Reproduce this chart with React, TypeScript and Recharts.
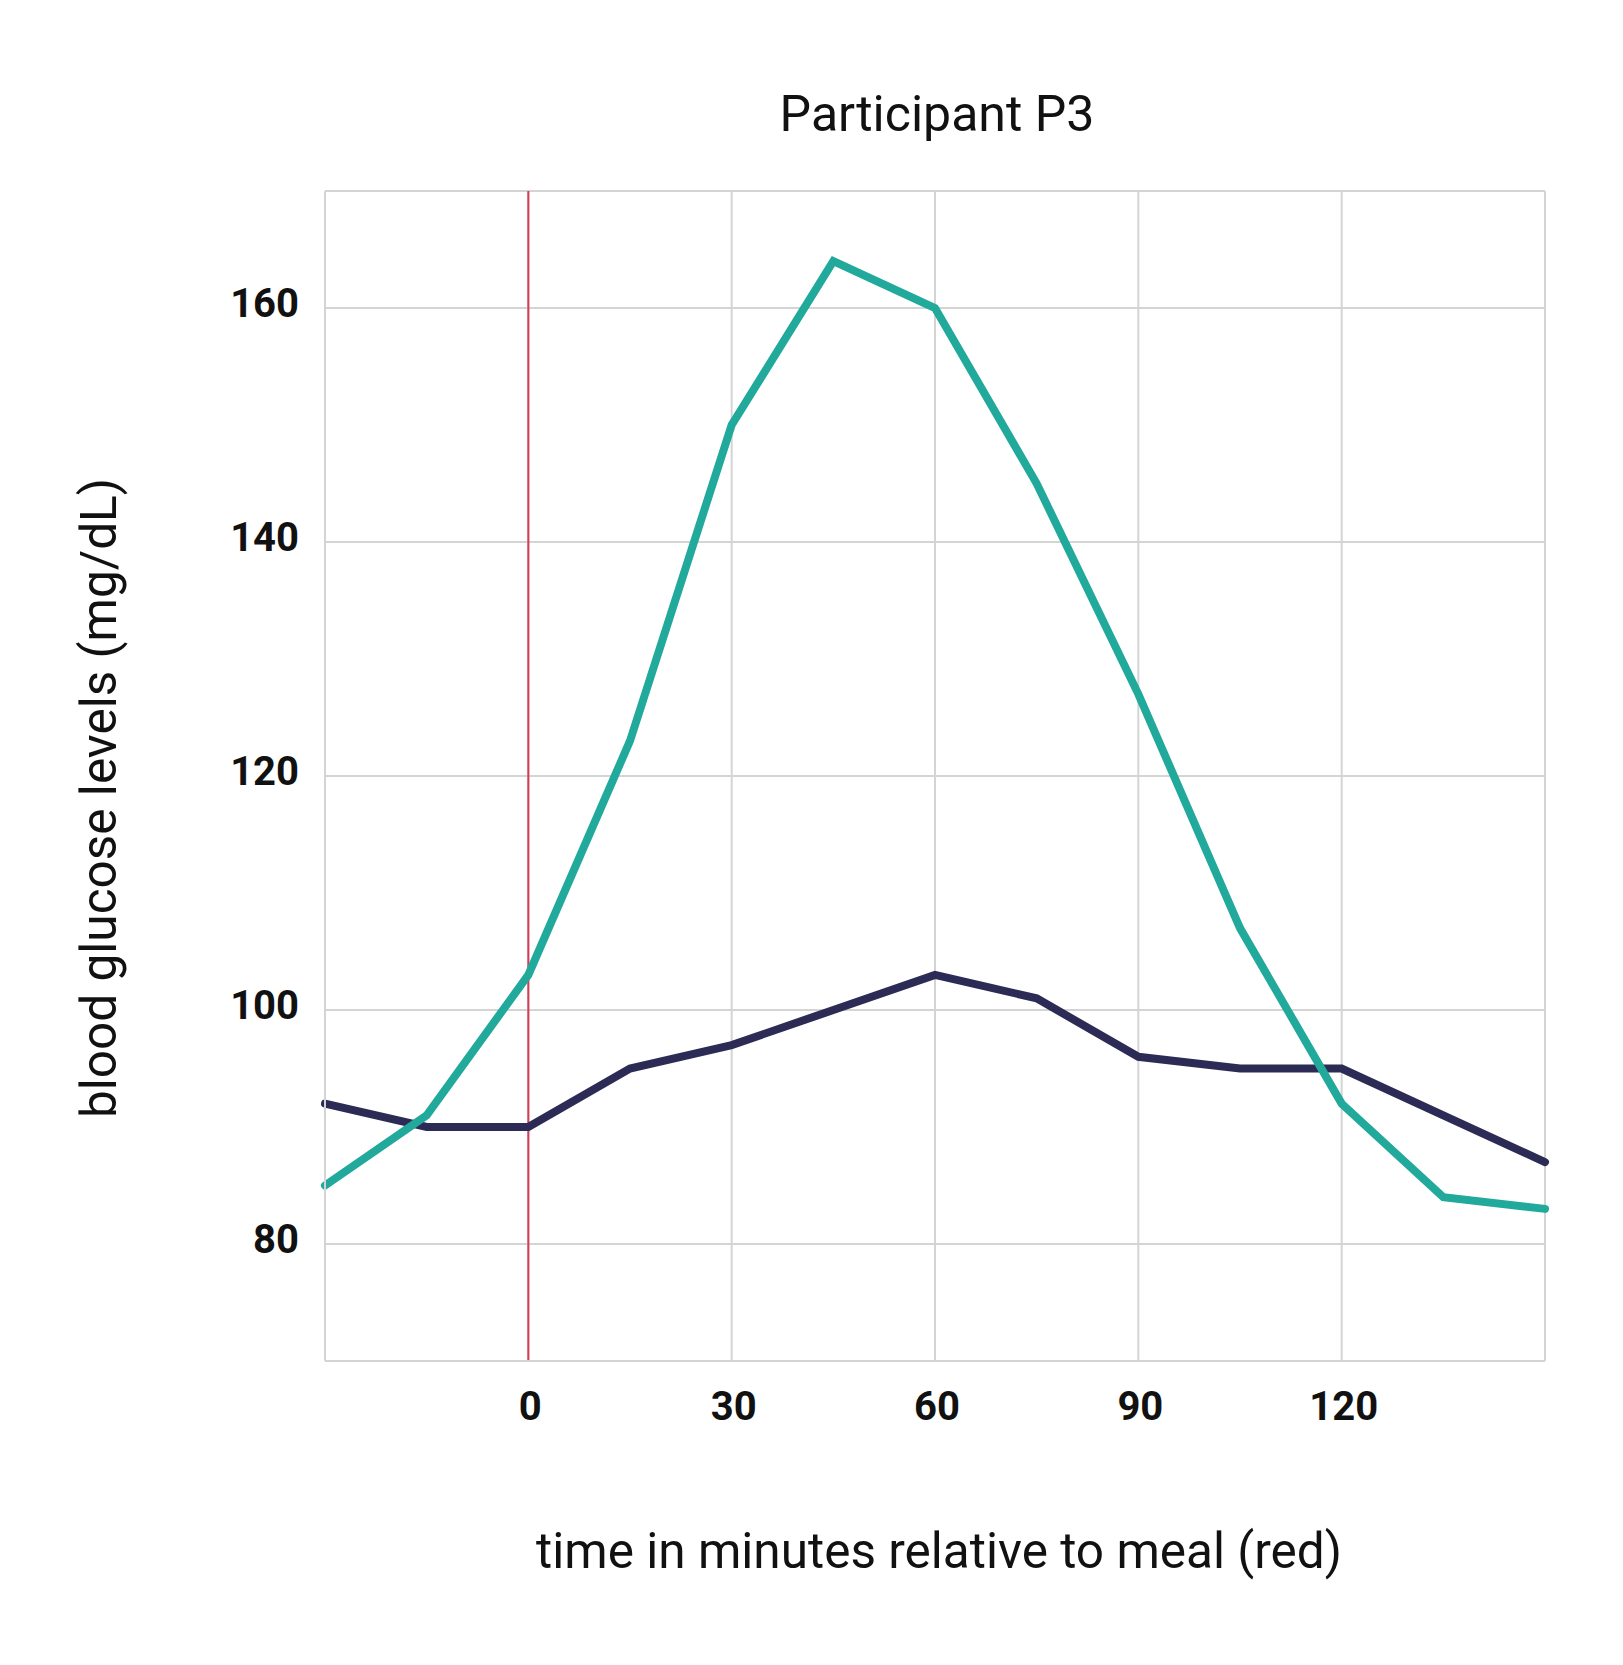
import { LineChart, Line, XAxis, YAxis, CartesianGrid, ReferenceLine } from 'recharts';

// minutes relative to meal, one reading every 15 minutes
const minutes = [-30, -15, 0, 15, 30, 45, 60, 75, 90, 105, 120, 135, 150];
const glucoseHigh = [85, 91, 103, 123, 150, 164, 160, 145, 127, 107, 92, 84, 83];
const glucoseLow = [92, 90, 90, 95, 97, 100, 103, 101, 96, 95, 95, 91, 87];

const xTicks = [-30, 0, 30, 60, 90, 120, 150];
const yTicks = [70, 80, 100, 120, 140, 160, 170];
const hiddenXTicks = [-30, 150];
const hiddenYTicks = [70, 170];

const TEAL = '#21a99b';
const NAVY = '#2b2b55';
const RED = '#d33c55';
const GRID = '#d4d4d4';
const FONT = 'Roboto, "Open Sans", sans-serif';

const data = minutes.map((m, i) => ({ minute: m, high: glucoseHigh[i], low: glucoseLow[i] }));

export default function App() {
  return (
    <div style={{ position: 'absolute', left: 0, top: 0, width: 1623, height: 1665, background: '#fff' }}>
      <LineChart
        width={1623}
        height={1665}
        data={data}
        margin={{ top: 191, right: 78, bottom: 244, left: 225 }}
      >
        <text x={937} y={131} textAnchor="middle" fontSize={50} fontFamily={FONT} fill="#111">
          Participant P3
        </text>
        <text x={939} y={1568} textAnchor="middle" fontSize={49.5} fontFamily={FONT} fill="#111">
          time in minutes relative to meal (red)
        </text>
        <text
          x={116}
          y={798}
          textAnchor="middle"
          fontSize={49.5}
          fontFamily={FONT}
          fill="#111"
          transform="rotate(-90 116 798)"
        >
          blood glucose levels (mg/dL)
        </text>
        <CartesianGrid stroke={GRID} strokeWidth={2} />
        <XAxis
          dataKey="minute"
          type="number"
          domain={[-30, 150]}
          ticks={xTicks}
          interval={0}
          height={60}
          tickSize={0}
          tickMargin={31}
          axisLine={{ stroke: GRID, strokeWidth: 2 }}
          tickLine={false}
          tickFormatter={(v: number) => (hiddenXTicks.includes(v) ? '' : String(v))}
          tick={{ fontSize: 40, fontWeight: 700, fill: '#111', fontFamily: FONT, dx: 2 }}
        />
        <YAxis
          type="number"
          domain={[70, 170]}
          ticks={yTicks}
          interval={0}
          width={100}
          tickSize={0}
          tickMargin={26}
          axisLine={{ stroke: GRID, strokeWidth: 2 }}
          tickLine={false}
          tickFormatter={(v: number) => (hiddenYTicks.includes(v) ? '' : String(v))}
          tick={{ fontSize: 40, fontWeight: 700, fill: '#111', fontFamily: FONT, dy: -5 }}
        />
        <ReferenceLine x={0} stroke={RED} strokeWidth={2} />
        <Line
          dataKey="low"
          stroke={NAVY}
          strokeWidth={8}
          strokeLinecap="round"
          dot={false}
          activeDot={false}
          isAnimationActive={false}
        />
        <Line
          dataKey="high"
          stroke={TEAL}
          strokeWidth={8}
          strokeLinecap="round"
          dot={false}
          activeDot={false}
          isAnimationActive={false}
        />
      </LineChart>
    </div>
  );
}
